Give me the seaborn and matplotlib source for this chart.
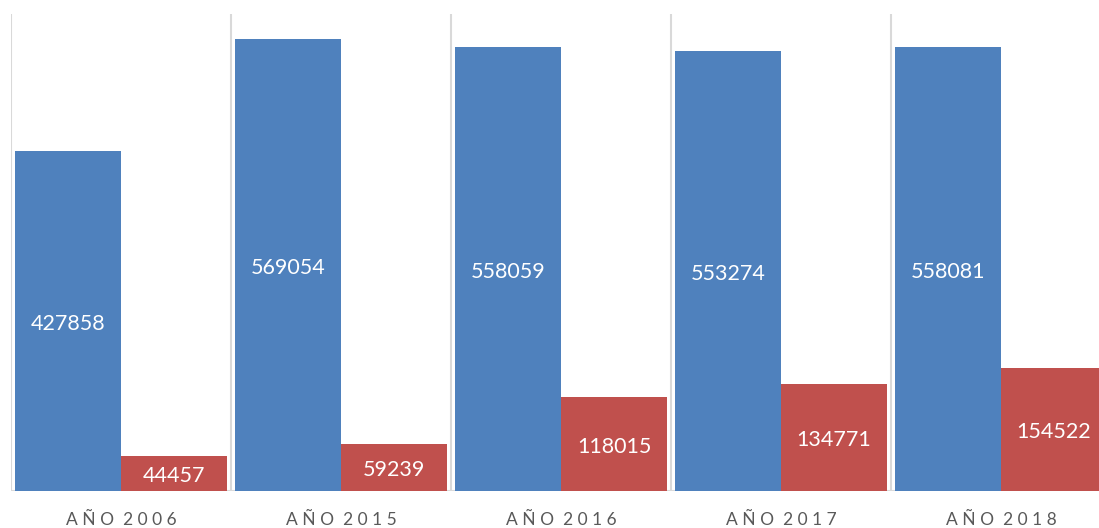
import pandas as pd
import seaborn as sns
import matplotlib.pyplot as plt

years = ['AÑO 2006', 'AÑO 2015', 'AÑO 2016', 'AÑO 2017', 'AÑO 2018']
serie1 = [427858, 569054, 558059, 553274, 558081]
serie2 = [44457, 59239, 118015, 134771, 154522]

df = pd.DataFrame({
    'year': years * 2,
    'value': serie1 + serie2,
    'serie': ['Serie 1'] * 5 + ['Serie 2'] * 5,
})

sns.set_theme(style='white')
plt.rcParams['font.family'] = ['Lato', 'DejaVu Sans']

fig = plt.figure(figsize=(10.99, 5.28), dpi=100)
ax = fig.add_axes([11 / 1099, 37 / 528, 1100 / 1099, 477 / 528])

sns.barplot(data=df, x='year', y='value', hue='serie',
            palette=['#4F81BD', '#C0504D'], saturation=1,
            width=0.9636, gap=0, linewidth=0, ax=ax)

for c in ax.containers:
    ax.bar_label(c, label_type='center', color='white', fontsize=15.5,
                 padding=-2)

# spaced-out category labels
def spaced(s):
    a, b = s.split(' ')
    return ' '.join(a) + '  ' + ' '.join(b)

ax.set_xlim(-0.5, 4.5)
ax.set_ylim(0, 600000)
ax.set_xticks(range(5))
ax.set_xticklabels([spaced(y) for y in years], color='#595959', fontsize=12.5)
ax.tick_params(axis='x', length=0, pad=15)
ax.set_yticks([])
ax.set_xlabel('')
ax.set_ylabel('')
for s in ax.spines.values():
    s.set_visible(False)
for b in [-0.5, 0.5, 1.5, 2.5, 3.5, 4.5]:
    ax.axvline(b, color='#d9d9d9', lw=1.5, zorder=0)
ax.axhline(0, color='#d9d9d9', lw=1.5, zorder=0)
ax.legend_.remove()

fig.savefig('out.png', dpi=100)
